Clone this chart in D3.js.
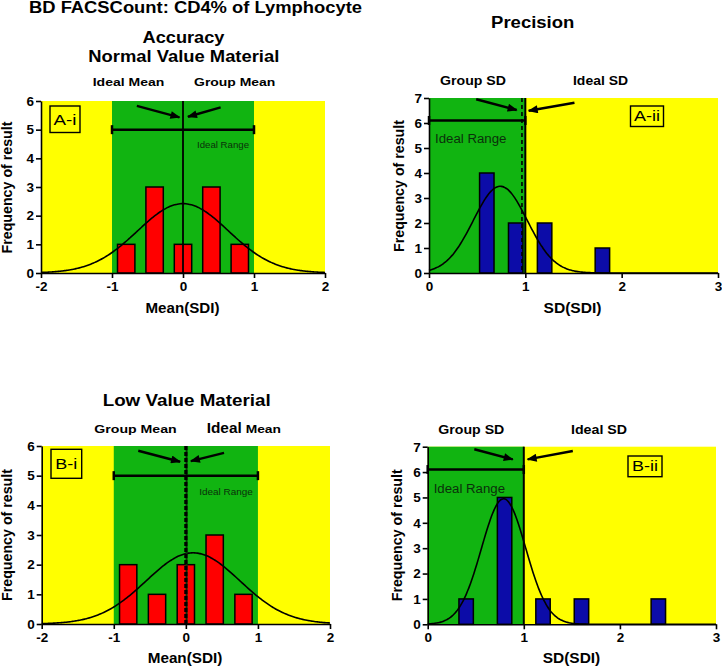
<!DOCTYPE html>
<html>
<head>
<meta charset="utf-8">
<script src="https://cdn.jsdelivr.net/npm/d3@7"></script>
<style>
  body { margin: 0; background: #fff; }
  svg { display: block; font-family: "Liberation Sans", Arial, sans-serif; }
</style>
</head>
<body>
<svg id="chart" width="722" height="666"></svg>
<script>
// histogram bins (SDI) and counts
const meanBins = [-0.8, -0.4, 0, 0.4, 0.8];
const normalMeanCounts = [1, 3, 1, 3, 1];
const lowMeanCounts = [2, 1, 2, 3, 1];
const normalSdBins = [0.6, 0.9, 1.2, 1.8];
const normalSdCounts = [4, 2, 2, 1];
const lowSdBins = [0.4, 0.8, 1.2, 1.6, 2.4];
const lowSdCounts = [1, 5, 1, 1, 1];

// gaussian fit per panel: A-i, A-ii, B-i, B-ii
const fitPeak = [2.42, 3.47, 2.4, 4.95];
const fitCentre = [0, 0.74, 0.1, 0.79];
const fitSpread = [0.64, 0.28, 0.65, 0.23];

const meanTicks = [-2, -1, 0, 1, 2];
const sdTicks = [0, 1, 2, 3];

const colors = {
  yellow: "#ffff00",
  green: "#11b411",
  red: "#ff0000",
  blue: "#0c0ca8",
  label: "#0b300b"
};

const svg = d3.select("#chart");

svg.append("defs").append("marker")
  .attr("id", "head")
  .attr("viewBox", "0 0 10 8")
  .attr("refX", 9)
  .attr("refY", 4)
  .attr("markerWidth", 11)
  .attr("markerHeight", 8)
  .attr("markerUnits", "userSpaceOnUse")
  .attr("orient", "auto")
  .append("path")
  .attr("d", "M0,0 L10,4 L0,8 Z")
  .attr("fill", "#000");

function txt(parent, s, x, y, o) {
  const t = parent.append("text")
    .attr("x", x)
    .attr("y", y)
    .attr("text-anchor", o.anchor || "middle")
    .attr("font-size", o.size)
    .attr("font-weight", o.weight || "bold")
    .attr("fill", o.fill || "#000")
    .text(s);
  if (o.w) t.attr("textLength", o.w).attr("lengthAdjust", "spacingAndGlyphs");
  if (o.rotate) t.attr("transform", `rotate(-90,${x},${y})`);
  return t;
}

function drawPanel(p) {
  const g = svg.append("g");
  const x = d3.scaleLinear().domain(p.xDomain).range(p.xRange);
  const y = d3.scaleLinear().domain([0, p.yMax]).range(p.yRange);
  const [x0, x1] = p.xDomain;

  g.append("rect")
    .attr("x", x(x0)).attr("y", y(p.yMax))
    .attr("width", x(x1) - x(x0)).attr("height", y(0) - y(p.yMax))
    .attr("fill", colors.yellow);

  g.append("rect")
    .attr("x", x(p.ideal[0])).attr("y", y(p.yMax))
    .attr("width", x(p.ideal[1]) - x(p.ideal[0])).attr("height", y(0) - y(p.yMax))
    .attr("fill", colors.green);

  g.selectAll("rect.bar")
    .data(p.bins.map((b, i) => ({ b, n: p.counts[i] })))
    .enter()
    .append("rect")
    .attr("class", "bar")
    .attr("x", d => x(d.b - p.barWidth / 2))
    .attr("width", d => x(d.b + p.barWidth / 2) - x(d.b - p.barWidth / 2))
    .attr("y", d => y(d.n))
    .attr("height", d => y(0) - y(d.n))
    .attr("fill", p.barColor)
    .attr("stroke", "#000")
    .attr("stroke-width", 1.5);

  // fitted gaussian
  const k = p.fit;
  const xs = d3.range(0, 201).map(i => x0 + (x1 - x0) * i / 200);
  const curve = d3.line()
    .x(v => x(v))
    .y(v => y(fitPeak[k] * Math.exp(-((v - fitCentre[k]) ** 2) / (2 * fitSpread[k] ** 2))))
    .curve(d3.curveBasis);
  g.append("path")
    .attr("d", curve(xs))
    .attr("fill", "none")
    .attr("stroke", "#000")
    .attr("stroke-width", 1.6);

  // group / ideal reference lines
  p.refLines.forEach(r => {
    g.append("line")
      .attr("x1", x(r.v)).attr("x2", x(r.v))
      .attr("y1", y(p.yMax)).attr("y2", y(0))
      .attr("stroke", r.color || "#000")
      .attr("stroke-width", r.w)
      .attr("stroke-dasharray", r.dash || null);
  });

  // ideal range bar
  const ry = y(p.rangeY);
  g.append("line")
    .attr("x1", x(p.ideal[0])).attr("x2", x(p.ideal[1]))
    .attr("y1", ry).attr("y2", ry)
    .attr("stroke", "#000").attr("stroke-width", 2.5);
  p.ideal.forEach(v => {
    g.append("line")
      .attr("x1", x(v)).attr("x2", x(v))
      .attr("y1", ry - 4.5).attr("y2", ry + 4.5)
      .attr("stroke", "#000").attr("stroke-width", 2.5);
  });
  txt(g, "Ideal Range", p.rangeText[0], p.rangeText[1],
    { size: p.rangeText[2], w: p.rangeText[3], anchor: "start", weight: "normal", fill: colors.label });

  // arrows
  p.arrows.forEach(a => {
    g.append("line")
      .attr("x1", x(a[0])).attr("y1", y(a[1]))
      .attr("x2", x(a[2])).attr("y2", y(a[3]))
      .attr("stroke", "#000").attr("stroke-width", 2.4)
      .attr("marker-end", "url(#head)");
  });

  // panel tag
  const b = p.tag;
  g.append("rect")
    .attr("x", b.x).attr("y", b.y).attr("width", b.w).attr("height", b.h)
    .attr("fill", colors.yellow).attr("stroke", "#000").attr("stroke-width", 1.4);
  txt(g, b.text, b.x + b.w / 2, b.y + b.h / 2 + b.size * 0.36,
    { size: b.size, weight: "normal", w: b.tw });

  // axes
  const plain = d => String(d);
  const ax = g.append("g")
    .attr("transform", `translate(0,${y(0)})`)
    .call(d3.axisBottom(x).tickValues(p.ticks).tickFormat(plain)
      .tickSize(5).tickSizeOuter(0).tickPadding(3));
  const ay = g.append("g")
    .attr("transform", `translate(${x(x0)},0)`)
    .call(d3.axisLeft(y).tickValues(d3.range(0, p.yMax + 1)).tickFormat(plain)
      .tickSize(5).tickSizeOuter(0).tickPadding(2));
  [ax, ay].forEach(a => {
    a.selectAll("path, line").attr("stroke", "#000").attr("stroke-width", 1.6);
    a.selectAll("text")
      .attr("font-family", "Liberation Sans, Arial, sans-serif")
      .attr("font-size", 13.5).attr("font-weight", "bold").attr("fill", "#000");
  });

  txt(g, p.xLabel[0], p.xLabel[1], p.xLabel[2], { size: 15, w: p.xLabel[3] });
  txt(g, "Frequency of result", p.yLabel[0], p.yLabel[1], { size: 14.5, w: 132, rotate: true });
}

const panels = [
  {
    xDomain: [-2, 2], xRange: [41, 325], yMax: 6, yRange: [273, 101],
    ideal: [-1, 1], bins: meanBins, counts: normalMeanCounts, barWidth: 0.245,
    barColor: colors.red, fit: 0, ticks: meanTicks,
    refLines: [{ v: 0, w: 1.8 }],
    rangeY: 5, rangeText: [197, 148, 9.5, 52],
    arrows: [[-0.65, 5.83, -0.05, 5.43], [0.53, 5.78, 0.07, 5.45]],
    tag: { x: 50, y: 106, w: 30, h: 26.5, text: "A-i", size: 15, tw: 23 },
    xLabel: ["Mean(SDI)", 182.5, 312.5, 74], yLabel: [12, 187.5]
  },
  {
    xDomain: [0, 3], xRange: [429, 718], yMax: 7, yRange: [273, 98],
    ideal: [0, 1], bins: normalSdBins, counts: normalSdCounts, barWidth: 0.15,
    barColor: colors.blue, fit: 1, ticks: sdTicks,
    refLines: [{ v: 0.965, w: 1.6, dash: "4,3" }, { v: 1.0, w: 2 }],
    rangeY: 6.1, rangeText: [435, 143, 12.5, 71.5],
    arrows: [[0.49, 6.95, 0.91, 6.52], [1.51, 6.81, 1.035, 6.49]],
    tag: { x: 630.5, y: 106, w: 33, h: 20.5, text: "A-ii", size: 14, tw: 26 },
    xLabel: ["SD(SDI)", 572.5, 312.5, 58], yLabel: [404, 186]
  },
  {
    xDomain: [-2, 2], xRange: [41.7, 330], yMax: 6, yRange: [624, 446],
    ideal: [-1, 1], bins: meanBins, counts: lowMeanCounts, barWidth: 0.24,
    barColor: colors.red, fit: 2, ticks: meanTicks,
    refLines: [{ v: 0.01, w: 2, color: "#073307" }, { v: 0, w: 3.2, dash: "4,2" }],
    rangeY: 5, rangeText: [199.3, 494.5, 9.5, 53.4],
    arrows: [[-0.66, 5.84, -0.08, 5.47], [0.53, 5.77, 0.07, 5.49]],
    tag: { x: 51, y: 449.3, w: 30.7, h: 29, text: "B-i", size: 15, tw: 22 },
    xLabel: ["Mean(SDI)", 185, 662.5, 74.6], yLabel: [12, 535]
  },
  {
    xDomain: [0, 3], xRange: [427.7, 716], yMax: 7, yRange: [624.3, 446.7],
    ideal: [0, 1], bins: lowSdBins, counts: lowSdCounts, barWidth: 0.15,
    barColor: colors.blue, fit: 3, ticks: sdTicks,
    refLines: [{ v: 1.0, w: 2 }],
    rangeY: 6.1, rangeText: [433.7, 492.7, 12.5, 71.3],
    arrows: [[0.485, 6.9, 0.885, 6.5], [1.51, 6.83, 1.04, 6.5]],
    tag: { x: 628, y: 456, w: 34, h: 20.7, text: "B-ii", size: 14, tw: 26 },
    xLabel: ["SD(SDI)", 571.5, 662.5, 57.6], yLabel: [402.5, 535.3]
  }
];

panels.forEach(drawPanel);

// titles and headers
txt(svg, "BD FACSCount: CD4% of Lymphocyte", 29, 12.5, { size: 16, w: 333, anchor: "start" });
txt(svg, "Accuracy", 183.5, 43.3, { size: 16, w: 82 });
txt(svg, "Normal Value Material", 183.8, 62.3, { size: 16, w: 191 });
txt(svg, "Ideal Mean", 128.5, 86, { size: 11.5, w: 71.6 });
txt(svg, "Group Mean", 234.7, 86, { size: 11.5, w: 81.3 });
txt(svg, "Precision", 532.7, 28.3, { size: 16, w: 83.3 });
txt(svg, "Group SD", 473, 85, { size: 12.5, w: 66 });
txt(svg, "Ideal SD", 600.5, 85, { size: 12.5, w: 55 });
txt(svg, "Low Value Material", 186.7, 406, { size: 16, w: 168 });
txt(svg, "Group Mean", 135.5, 432.7, { size: 11.5, w: 82.4 });
txt(svg, "Ideal", 206.7, 432.7, { size: 14, w: 35, anchor: "start" });
txt(svg, "Mean", 245.7, 432.7, { size: 11.5, w: 35.3, anchor: "start" });
txt(svg, "Group SD", 471.3, 434, { size: 12.5, w: 66 });
txt(svg, "Ideal SD", 599, 434, { size: 12.5, w: 56 });
</script>
</body>
</html>
